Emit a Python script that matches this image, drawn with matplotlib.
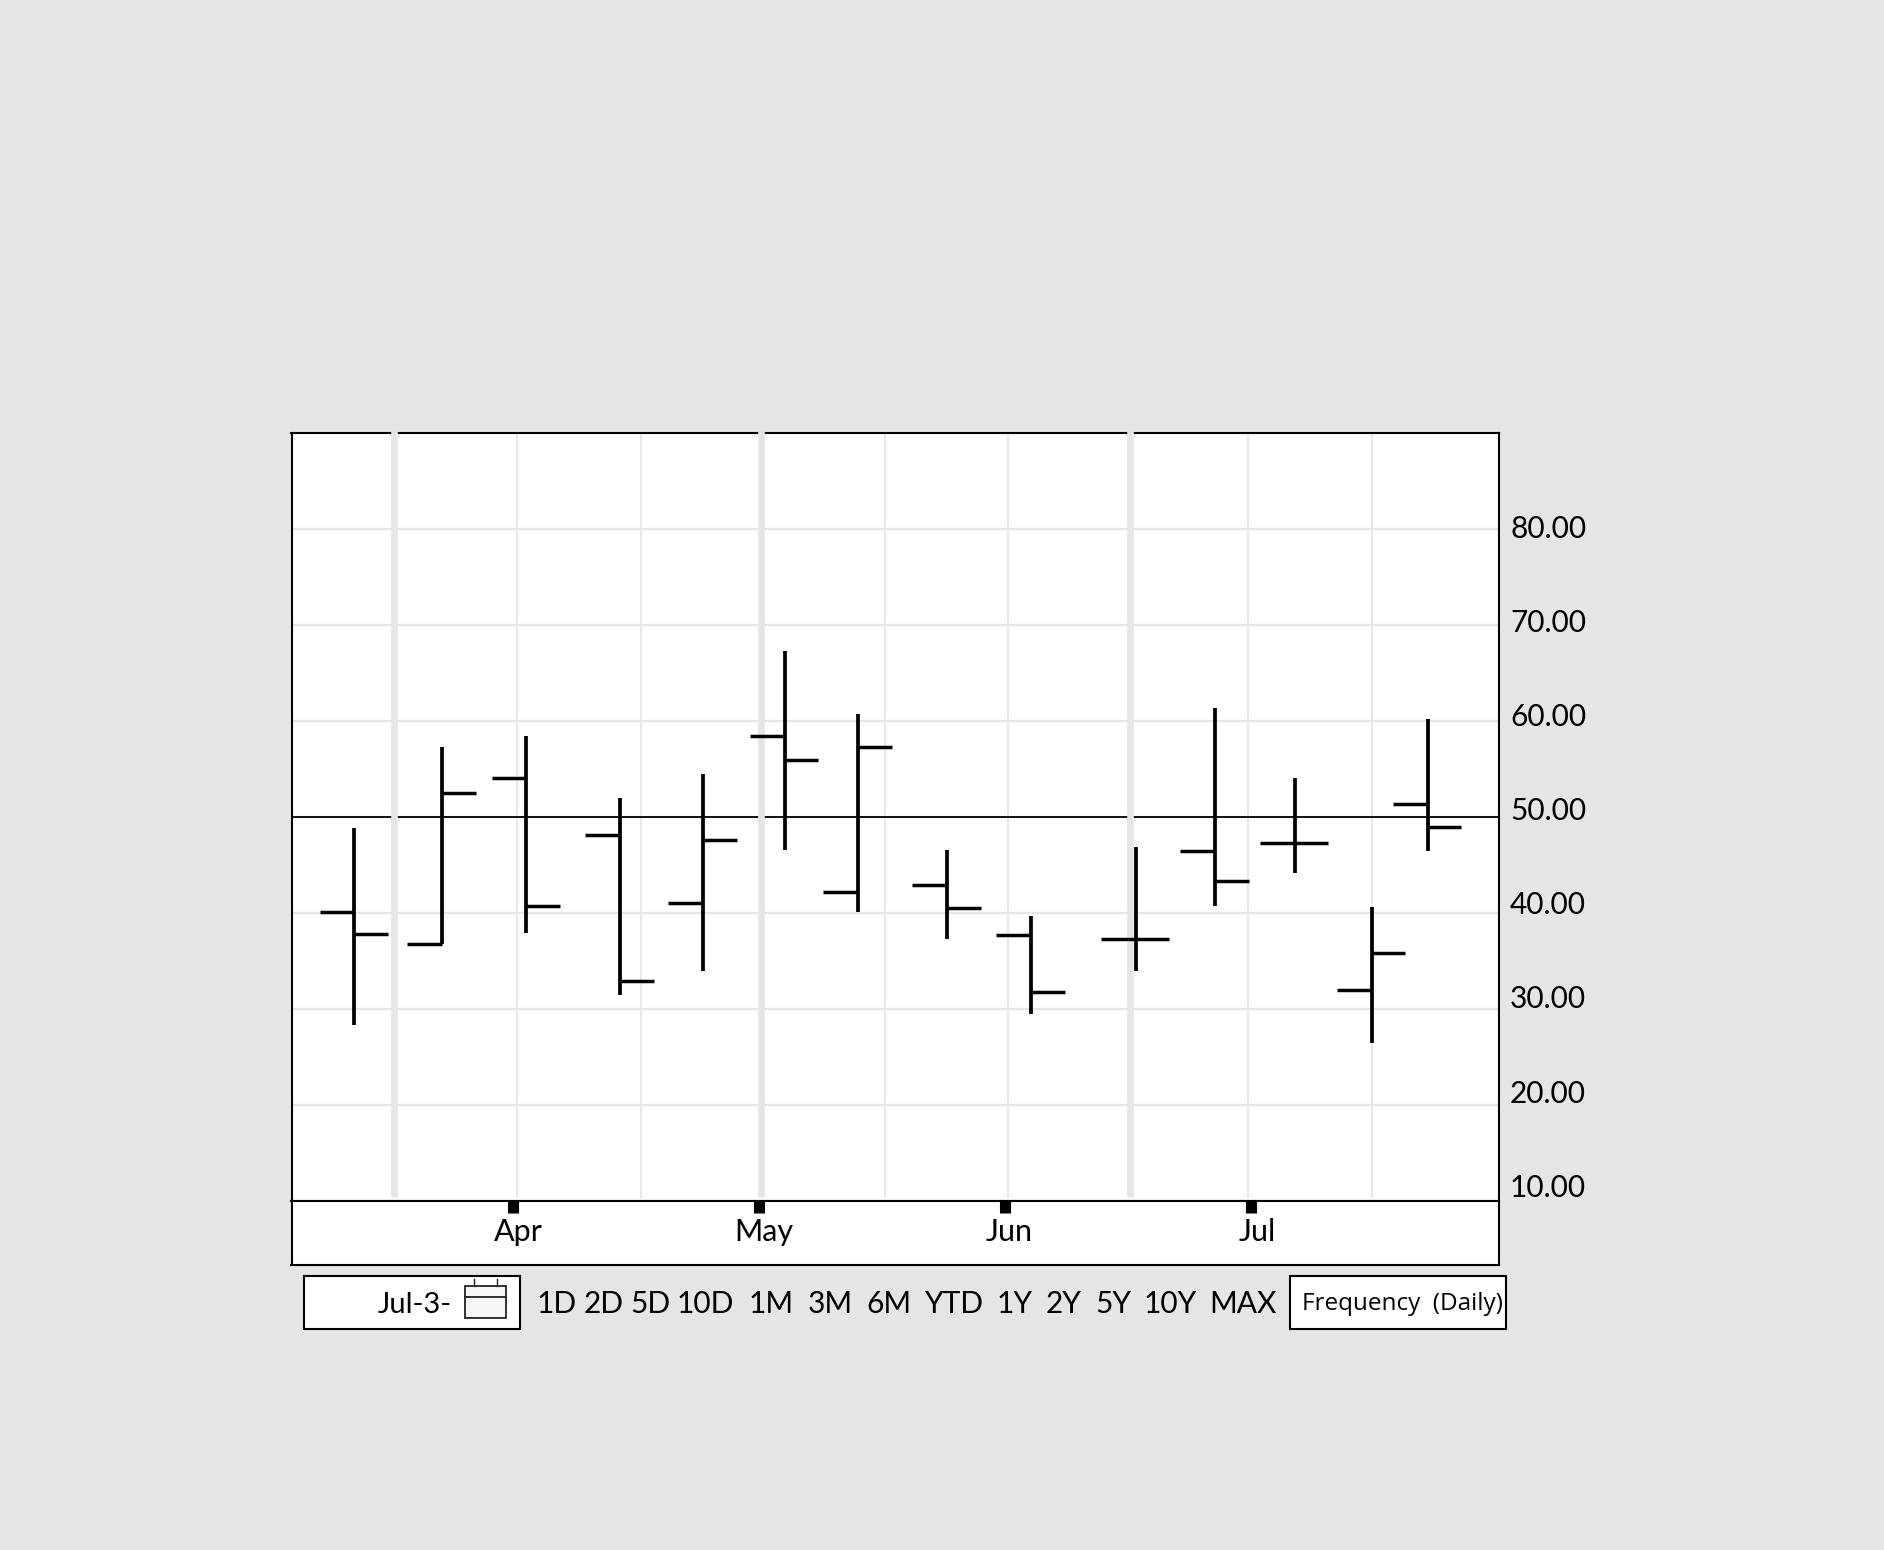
import matplotlib
matplotlib.use('Agg')
import matplotlib.pyplot as plt
from matplotlib.patches import Rectangle

plt.rcParams['font.family'] = ['Lato', 'DejaVu Sans']

# x positions are in months (4 = Apr)
bar_x = [3.355, 3.712, 4.054, 4.435, 4.772, 5.104, 5.402, 5.764, 6.106, 6.531, 6.853, 7.176, 7.489, 7.718]
open_v = [40.04, 36.78, 54.05, 48.05, 41.04, 58.44, 42.17, 42.92, 37.66, 37.28, 46.42, 47.30, 31.90, 51.30]
high_v = [48.80, 57.28, 58.44, 51.93, 54.41, 67.27, 60.66, 46.52, 39.64, 46.80, 61.29, 54.03, 40.61, 60.16]
low_v = [28.27, 36.78, 37.91, 31.40, 33.90, 46.55, 40.04, 37.28, 29.40, 33.90, 40.66, 44.17, 26.40, 46.42]
close_v = [37.78, 52.43, 40.66, 32.88, 47.55, 55.93, 57.28, 40.54, 31.75, 37.28, 43.27, 47.30, 35.78, 48.92]

y_grid = [20, 30, 40, 50, 60, 70, 80]
y_labels = ['80.00', '70.00', '60.00', '50.00', '40.00', '30.00', '20.00', '10.00']
x_grid_thin = [4.015, 4.518, 5.51, 6.013, 6.985, 7.489]
x_grid_thick = [3.516, 5.006, 6.506]
month_ticks = [4, 5, 6, 7]
month_labels = ['Apr', 'May', 'Jun', 'Jul']
month_label_x = [4.02, 5.02, 6.015, 7.025]
buttons = ['1D', '2D', '5D', '10D', '1M', '3M', '6M', 'YTD', '1Y', '2Y', '5Y', '10Y', 'MAX']
button_x = [557, 604, 650, 705, 771, 830, 889, 954, 1015, 1064, 1113, 1170, 1243]

W, H = 1884, 1550
GREY = '#e5e5e5'
L, R, T, B, B2 = 291.5, 1498.5, 432.8, 1200.7, 1264.5
X0, X1 = 3.099, 8.005

fig = plt.figure(figsize=(W / 100, H / 100), dpi=100, facecolor=GREY)

ax = fig.add_axes([L / W, 1 - B / H, (R - L) / W, (B - T) / H], facecolor='white')
ax.set_xlim(X0, X1)
ax.set_ylim(10, 90)
ax.hlines(y_grid, X0, X1, color=GREY, lw=1.7, zorder=1)
ax.vlines(x_grid_thin, 10.3, 90, color=GREY, lw=1.3, zorder=1)
ax.vlines(x_grid_thick, 10.4, 90.2, color=GREY, lw=4.8, zorder=3, clip_on=False)
ax.axhline(50, color='black', lw=1.3, zorder=2)

ax.vlines(bar_x, low_v, high_v, color='black', lw=2.7, capstyle='butt', zorder=4)
ax.hlines(open_v, [x - 0.142 for x in bar_x], bar_x, color='black', lw=2.5, capstyle='butt', zorder=4)
ax.hlines(close_v, bar_x, [x + 0.136 for x in bar_x], color='black', lw=2.5, capstyle='butt', zorder=4)

ax.set_xticks([])
ax.set_yticks([])
for s in ax.spines.values():
    s.set_linewidth(1.5)

# month strip under the plot
ax2 = fig.add_axes([L / W, 1 - B2 / H, (R - L) / W, (B2 - B) / H], facecolor='white')
ax2.set_xlim(X0, X1)
ax2.set_ylim(0, 1)
ax2.set_yticks([])
ax2.set_xticks(month_ticks)
ax2.set_xticklabels([])
ax2.tick_params(axis='x', direction='in', top=True, bottom=False, width=8, length=8.5, color='black')
for m, lab in zip(month_label_x, month_labels):
    ax2.text(m, 0.51, lab, ha='center', va='center', fontsize=22)
for s in ax2.spines.values():
    s.set_linewidth(1.5)

# overlay in pixels for the price labels and the control row
ov = fig.add_axes([0, 0, 1, 1], facecolor='none')
ov.set_xlim(0, W)
ov.set_ylim(H, 0)
ov.axis('off')

for i, lab in enumerate(y_labels):
    ov.text(1510, 529 + i * 94.1, lab, ha='left', va='center', fontsize=21.5)

ov.add_patch(Rectangle((303.5, 1275.5), 216, 53.5, fc='white', ec='black', lw=1.5))
ov.add_patch(Rectangle((1289.5, 1275.5), 216, 53.5, fc='white', ec='black', lw=1.5))
ov.text(452, 1305, 'Jul-3-', ha='right', va='center', fontsize=21)
ov.text(1402, 1304, 'Frequency  (Daily)', ha='center', va='center', fontsize=17.5, family=['Open Sans', 'DejaVu Sans'])

# calendar icon
ov.add_patch(Rectangle((464.5, 1286), 41, 32, fc='#f5f5f5', ec='#222222', lw=1.3))
ov.plot([464.5, 505.5], [1297, 1297], color='#222222', lw=1.3)
ov.plot([474, 474], [1279, 1286], color='#222222', lw=1)
ov.plot([497, 497], [1279, 1286], color='#222222', lw=1)

for x, lab in zip(button_x, buttons):
    ov.text(x, 1304, lab, ha='center', va='center', fontsize=21.5)

fig.savefig('out.png', dpi=100, facecolor=fig.get_facecolor())
